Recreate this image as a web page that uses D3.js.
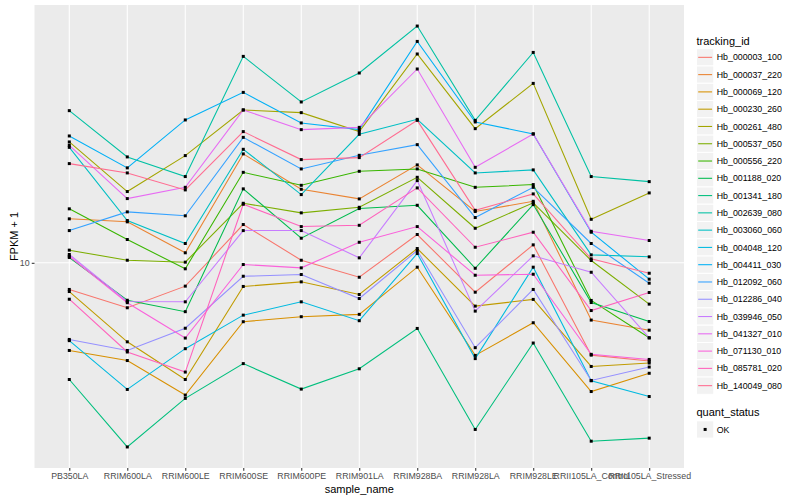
<!DOCTYPE html>
<html>
<head>
<meta charset="utf-8">
<script src="https://cdn.jsdelivr.net/npm/d3@7"></script>
<style>
  body { margin: 0; background: #fff; }
  text { font-family: "Liberation Sans", Arial, sans-serif; }
</style>
</head>
<body>
<script>
// Samples along the x axis (in plot order)
const sampleNames = ["PB350LA", "RRIM600LA", "RRIM600LE", "RRIM600SE", "RRIM600PE", "RRIM901LA",
  "RRIM928BA", "RRIM928LA", "RRIM928LE", "RRII105LA_Control", "RRII105LA_Stressed"];

const trackingIds = ["Hb_000003_100", "Hb_000037_220", "Hb_000069_120", "Hb_000230_260", "Hb_000261_480",
  "Hb_000537_050", "Hb_000556_220", "Hb_001188_020", "Hb_001341_180", "Hb_002639_080",
  "Hb_003060_060", "Hb_004048_120", "Hb_004411_030", "Hb_012092_060", "Hb_012286_040",
  "Hb_039946_050", "Hb_041327_010", "Hb_071130_010", "Hb_085781_020", "Hb_140049_080"];

// FPKM + 1 for each transcript, one value per sample
const hb_000003_100 = [8.15, 7.08, 8.36, 13.42, 10.20, 8.95, 12.43, 7.98, 11.48, 4.92, 4.70];
const hb_000037_220 = [14.02, 13.70, 10.80, 23.09, 17.59, 16.34, 21.22, 14.83, 16.04, 6.44, 5.96];
const hb_000069_120 = [5.10, 4.72, 3.62, 6.36, 6.61, 6.73, 9.67, 4.91, 6.31, 3.72, 4.28];
const hb_000230_260 = [8.02, 5.45, 4.08, 8.34, 8.64, 7.84, 11.16, 7.17, 7.55, 4.51, 4.63];
const hb_000261_480 = [25.31, 17.29, 22.79, 32.36, 31.70, 27.40, 49.75, 28.03, 39.69, 13.97, 17.11];
const hb_000537_050 = [11.02, 10.20, 10.05, 15.80, 14.68, 15.32, 19.29, 13.04, 15.85, 10.18, 7.28];
const hb_000556_220 = [15.14, 11.96, 9.55, 20.04, 18.14, 20.20, 20.57, 17.86, 18.24, 7.49, 5.62];
const hb_001188_020 = [10.42, 7.50, 6.87, 17.65, 12.08, 15.17, 15.56, 9.59, 15.64, 7.37, 6.37];
const hb_001341_180 = [4.08, 2.43, 3.53, 4.61, 3.79, 4.43, 6.04, 2.78, 5.40, 2.54, 2.60];
const hb_002639_080 = [32.19, 22.56, 19.40, 48.84, 34.41, 42.99, 61.66, 29.88, 50.35, 19.40, 18.66];
const hb_003060_060 = [24.28, 13.84, 11.60, 23.92, 16.89, 26.83, 30.11, 19.95, 20.42, 10.63, 10.47];
const hb_004048_120 = [5.50, 3.78, 5.17, 6.69, 7.41, 6.41, 10.74, 4.79, 9.67, 4.04, 3.58];
const hb_004411_030 = [26.50, 20.74, 29.97, 37.04, 29.29, 27.82, 54.79, 29.51, 26.92, 12.65, 8.82];
const hb_012092_060 = [12.81, 14.79, 14.35, 26.22, 20.57, 22.84, 24.79, 14.16, 17.86, 11.60, 8.55];
const hb_012286_040 = [5.55, 5.10, 6.05, 9.02, 9.14, 7.60, 10.99, 5.21, 8.15, 4.05, 4.49];
const hb_039946_050 = [10.66, 7.43, 7.41, 12.81, 12.81, 10.39, 18.81, 6.90, 10.55, 9.30, 5.62];
const hb_041327_010 = [24.66, 16.38, 17.86, 32.36, 27.82, 28.31, 44.33, 20.83, 26.92, 12.74, 11.87];
const hb_071130_010 = [10.52, 7.36, 5.61, 9.87, 9.62, 11.71, 13.21, 9.09, 9.16, 4.95, 4.76];
const hb_085781_020 = [7.56, 5.04, 4.32, 15.68, 13.21, 13.34, 17.78, 11.27, 12.65, 6.93, 7.96];
const hb_140049_080 = [21.43, 19.95, 17.51, 27.40, 22.10, 22.44, 29.88, 14.97, 16.98, 10.31, 9.23];

const seriesValues = [hb_000003_100, hb_000037_220, hb_000069_120, hb_000230_260, hb_000261_480,
  hb_000537_050, hb_000556_220, hb_001188_020, hb_001341_180, hb_002639_080,
  hb_003060_060, hb_004048_120, hb_004411_030, hb_012092_060, hb_012286_040,
  hb_039946_050, hb_041327_010, hb_071130_010, hb_085781_020, hb_140049_080];

const quantStatus = ["OK"];
const yTicks = [10];

// ggplot default hue palette for 20 levels
const palette = ["#F8766D", "#EA8331", "#D89000", "#C09B00", "#A3A500", "#7CAE00", "#39B600", "#00BB4E",
  "#00BF7D", "#00C1A3", "#00BFC4", "#00BAE0", "#00B0F6", "#35A2FF", "#9590FF", "#C77CFF",
  "#E76BF3", "#FA62DB", "#FF62BC", "#FF6C91"];

const width = 800, height = 500;
const panel = { left: 34.5, right: 684, top: 5, bottom: 468 };

const svg = d3.select("body")
    .append("svg")
    .attr("width", width)
    .attr("height", height);

const series = trackingIds.map((id, i) => ({ id: id, color: palette[i], values: seriesValues[i] }));

// Discrete x scale with ggplot's 0.6 expansion
const x = d3.scalePoint()
    .domain(sampleNames)
    .range([panel.left, panel.right])
    .padding(0.6);

// Log y scale, expanded 5% each side in log space
const logExtent = d3.extent(seriesValues.flat()).map(Math.log10);
const pad = (logExtent[1] - logExtent[0]) * 0.05;
const y = d3.scaleLog()
    .domain([Math.pow(10, logExtent[0] - pad), Math.pow(10, logExtent[1] + pad)])
    .range([panel.bottom, panel.top]);

// Panel background and grid
svg.append("rect")
    .attr("x", panel.left)
    .attr("y", panel.top)
    .attr("width", panel.right - panel.left)
    .attr("height", panel.bottom - panel.top)
    .attr("fill", "#EBEBEB");

const grid = svg.append("g")
    .attr("stroke", "#fff")
    .attr("stroke-width", 1.07);

grid.selectAll(".vgrid")
    .data(sampleNames)
    .join("line")
    .attr("x1", d => x(d)).attr("x2", d => x(d))
    .attr("y1", panel.top).attr("y2", panel.bottom);

grid.selectAll(".hgrid")
    .data(yTicks)
    .join("line")
    .attr("x1", panel.left).attr("x2", panel.right)
    .attr("y1", d => y(d)).attr("y2", d => y(d));

// Axes
const xAxis = svg.append("g")
    .attr("transform", `translate(0,${panel.bottom})`)
    .call(d3.axisBottom(x).tickSize(2.75).tickPadding(2.2));

const yAxis = svg.append("g")
    .attr("transform", `translate(${panel.left},0)`)
    .call(d3.axisLeft(y).tickValues(yTicks).tickFormat(d3.format("d")).tickSize(2.75).tickPadding(2.2));

[xAxis, yAxis].forEach(g => {
    g.select(".domain").remove();
    g.selectAll(".tick line").attr("stroke", "#333333").attr("stroke-width", 1.07);
    g.selectAll(".tick text")
        .attr("fill", "#4D4D4D")
        .style("font-size", "8.8px")
        .style("font-family", "'Liberation Sans', Arial, sans-serif");
});

svg.append("text")
    .attr("x", (panel.left + panel.right) / 2)
    .attr("y", 493)
    .attr("text-anchor", "middle")
    .style("font-size", "11px")
    .text("sample_name");

svg.append("text")
    .attr("transform", `translate(18,${(panel.top + panel.bottom) / 2}) rotate(-90)`)
    .attr("text-anchor", "middle")
    .style("font-size", "11px")
    .text("FPKM + 1");

// Lines, one per transcript
const line = d3.line()
    .x((d, i) => x(sampleNames[i]))
    .y(d => y(d));

svg.append("g")
    .selectAll("path")
    .data(series)
    .join("path")
    .attr("d", d => line(d.values))
    .attr("fill", "none")
    .attr("stroke", d => d.color)
    .attr("stroke-width", 1.07);

// Points on top
const points = series.flatMap(s => s.values.map((v, i) => ({ sample: sampleNames[i], value: v })));
svg.append("g")
    .selectAll("rect")
    .data(points)
    .join("rect")
    .attr("x", d => x(d.sample) - 1.5)
    .attr("y", d => y(d.value) - 1.5)
    .attr("width", 3)
    .attr("height", 3)
    .attr("fill", "#000");

// Legend: tracking_id
const keySize = 17.28;
const legend = svg.append("g").attr("transform", "translate(696.5,0)");

legend.append("text")
    .attr("x", 0)
    .attr("y", 44.5)
    .style("font-size", "11px")
    .text("tracking_id");

const keys = legend.selectAll(".key")
    .data(series)
    .join("g")
    .attr("transform", (d, i) => `translate(0,${48.7 + i * keySize})`);

keys.append("rect")
    .attr("width", keySize)
    .attr("height", keySize)
    .attr("fill", "#F2F2F2")
    .attr("stroke", "#fff")
    .attr("stroke-width", 1);

keys.append("line")
    .attr("x1", 1.7).attr("x2", keySize - 1.7)
    .attr("y1", keySize / 2).attr("y2", keySize / 2)
    .attr("stroke", d => d.color)
    .attr("stroke-width", 1.07);

keys.append("text")
    .attr("x", keySize + 3)
    .attr("y", keySize / 2 + 3.1)
    .style("font-size", "8.8px")
    .text(d => d.id);

// Legend: quant_status
legend.append("text")
    .attr("x", 0)
    .attr("y", 416)
    .style("font-size", "11px")
    .text("quant_status");

const statusKeys = legend.selectAll(".status")
    .data(quantStatus)
    .join("g")
    .attr("transform", (d, i) => `translate(0,${420.8 + i * keySize})`);

statusKeys.append("rect")
    .attr("width", keySize)
    .attr("height", keySize)
    .attr("fill", "#F2F2F2")
    .attr("stroke", "#fff");

statusKeys.append("rect")
    .attr("x", keySize / 2 - 1.5)
    .attr("y", keySize / 2 - 1.5)
    .attr("width", 3)
    .attr("height", 3)
    .attr("fill", "#000");

statusKeys.append("text")
    .attr("x", keySize + 3)
    .attr("y", keySize / 2 + 3.1)
    .style("font-size", "8.8px")
    .text(d => d);
</script>
</body>
</html>
